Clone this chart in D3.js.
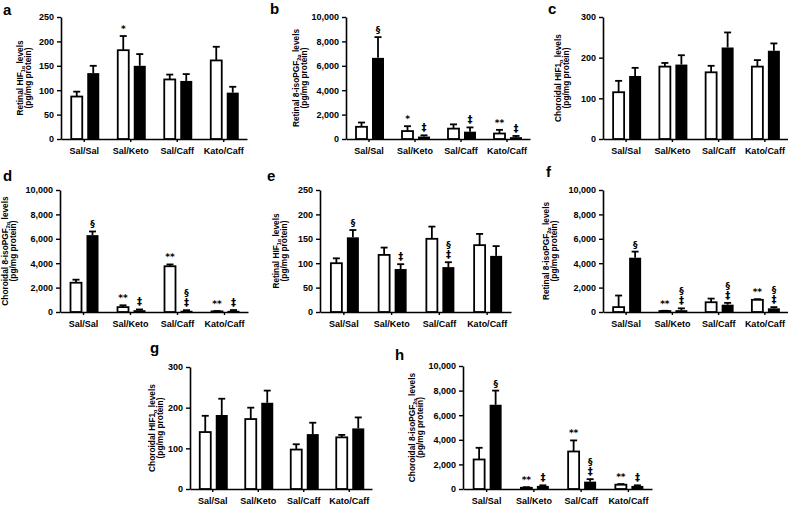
<!DOCTYPE html>
<html>
<head>
<meta charset="utf-8">
<script src="https://cdn.jsdelivr.net/npm/d3@7"></script>
<style>
  html, body { margin: 0; padding: 0; background: #fff; }
  svg { display: block; font-family: "Liberation Sans", Arial, sans-serif; font-weight: bold; }
</style>
</head>
<body>
<svg id="chart" width="788" height="506"></svg>
<script>
// ---------- DATA ----------
const groups = ["Sal/Sal", "Sal/Keto", "Sal/Caff", "Kato/Caff"];

// panel a: Retinal HIF1a
const aWhite = [87, 182, 122, 161];
const aWhiteErr = [10, 29, 10, 28];
const aBlack = [135, 150, 119, 95];
const aBlackErr = [15, 24, 14, 12];
const aWhiteMark = ["", "*", "", ""];
const aBlackMark = ["", "", "", ""];
const aTicks = [0, 50, 100, 150, 200, 250];

// panel b: Retinal 8-isoPGF2a
const bWhite = [1000, 650, 850, 450];
const bWhiteErr = [350, 400, 350, 300];
const bBlack = [6650, 200, 600, 150];
const bBlackErr = [1700, 100, 350, 100];
const bWhiteMark = ["", "*", "", "**"];
const bBlackMark = ["§", "‡", "‡", "‡"];
const bTicks = [0, 2000, 4000, 6000, 8000, 10000];

// panel c: Choroidal HIF1a
const cWhite = [115, 178, 164, 178];
const cWhiteErr = [28, 9, 16, 16];
const cBlack = [155, 183, 225, 217];
const cBlackErr = [20, 23, 37, 18];
const cWhiteMark = ["", "", "", ""];
const cBlackMark = ["", "", "", ""];
const cTicks = [0, 100, 200, 300];

// panel d: Choroidal 8-isoPGF2a
const dWhite = [2400, 400, 3750, 50];
const dWhiteErr = [250, 150, 150, 30];
const dBlack = [6300, 150, 100, 100];
const dBlackErr = [300, 60, 50, 60];
const dWhiteMark = ["", "**", "**", "**"];
const dBlackMark = ["§", "‡", "§|‡", "‡"];
const dTicks = [0, 2000, 4000, 6000, 8000, 10000];

// panel e: Retinal HIF1a
const eWhite = [100, 117, 150, 137];
const eWhiteErr = [10, 15, 25, 23];
const eBlack = [153, 88, 92, 115];
const eBlackErr = [15, 10, 10, 20];
const eWhiteMark = ["", "", "", ""];
const eBlackMark = ["§", "‡", "§|‡", ""];
const eTicks = [0, 50, 100, 150, 200, 250];

// panel f: Retinal 8-isoPGF2a
const fWhite = [400, 80, 800, 1000];
const fWhiteErr = [950, 20, 300, 50];
const fBlack = [4450, 150, 600, 300];
const fBlackErr = [500, 150, 150, 100];
const fWhiteMark = ["", "**", "", "**"];
const fBlackMark = ["§", "§|‡", "§|‡", "§|‡"];
const fTicks = [0, 2000, 4000, 6000, 8000, 10000];

// panel g: Choroidal HIF1a
const gWhite = [140, 172, 97, 127];
const gWhiteErr = [40, 28, 13, 6];
const gBlack = [182, 212, 135, 149];
const gBlackErr = [40, 30, 28, 27];
const gWhiteMark = ["", "", "", ""];
const gBlackMark = ["", "", "", ""];
const gTicks = [0, 100, 200, 300];

// panel h: Choroidal 8-isoPGF2a
const hWhite = [2400, 100, 3050, 350];
const hWhiteErr = [950, 50, 900, 50];
const hBlack = [6850, 250, 600, 250];
const hBlackErr = [1150, 50, 200, 50];
const hWhiteMark = ["", "**", "**", "**"];
const hBlackMark = ["§", "‡", "§|‡", "‡"];
const hTicks = [0, 2000, 4000, 6000, 8000, 10000];

// axis titles: [prefix, subscript, suffix]
const titleHIFRet = ["Retinal HIF", "1α", " levels"];
const titleHIFCho = ["Choroidal HIF1", "α", " levels"];
const titleIsoRet = ["Retinal 8-isoPGF", "2α", " levels"];
const titleIsoCho = ["Choroidal 8-isoPGF", "2α", " levels"];
const titleUnit = "(pg/mg protein)";

// ---------- LAYOUT ----------
const panels = [
  { id: "a", white: aWhite, wErr: aWhiteErr, black: aBlack, bErr: aBlackErr, wMark: aWhiteMark, bMark: aBlackMark, ticks: aTicks, title: titleHIFRet,
    x0: 61, x1: 247, yTop: 17, yBot: 139, lx: 3, ly: 15, t1: 23, t2: 31 },
  { id: "b", white: bWhite, wErr: bWhiteErr, black: bBlack, bErr: bBlackErr, wMark: bWhiteMark, bMark: bBlackMark, ticks: bTicks, title: titleIsoRet,
    x0: 346, x1: 530, yTop: 17, yBot: 139, lx: 270, ly: 14, t1: 299, t2: 307 },
  { id: "c", white: cWhite, wErr: cWhiteErr, black: cBlack, bErr: cBlackErr, wMark: cWhiteMark, bMark: cBlackMark, ticks: cTicks, title: titleHIFCho,
    x0: 603, x1: 788, yTop: 17, yBot: 139, lx: 548, ly: 14, t1: 561, t2: 569 },
  { id: "d", white: dWhite, wErr: dWhiteErr, black: dBlack, bErr: dBlackErr, wMark: dWhiteMark, bMark: dBlackMark, ticks: dTicks, title: titleIsoCho,
    x0: 60, x1: 248, yTop: 190, yBot: 312, lx: 3, ly: 181, t1: 8, t2: 16 },
  { id: "e", white: eWhite, wErr: eWhiteErr, black: eBlack, bErr: eBlackErr, wMark: eWhiteMark, bMark: eBlackMark, ticks: eTicks, title: titleHIFRet,
    x0: 320, x1: 511, yTop: 190, yBot: 312, lx: 267, ly: 181, t1: 279, t2: 287 },
  { id: "f", white: fWhite, wErr: fWhiteErr, black: fBlack, bErr: fBlackErr, wMark: fWhiteMark, bMark: fBlackMark, ticks: fTicks, title: titleIsoRet,
    x0: 603, x1: 788, yTop: 190, yBot: 312, lx: 546, ly: 177, t1: 549, t2: 557 },
  { id: "g", white: gWhite, wErr: gWhiteErr, black: gBlack, bErr: gBlackErr, wMark: gWhiteMark, bMark: gBlackMark, ticks: gTicks, title: titleHIFCho,
    x0: 190, x1: 372, yTop: 367, yBot: 489, lx: 150, ly: 353, t1: 155, t2: 163 },
  { id: "h", white: hWhite, wErr: hWhiteErr, black: hBlack, bErr: hBlackErr, wMark: hWhiteMark, bMark: hBlackMark, ticks: hTicks, title: titleIsoCho,
    x0: 463, x1: 652, yTop: 366, yBot: 489, lx: 395, ly: 360, t1: 415, t2: 423 }
];

const svg = d3.select("#chart");
const fmt = d3.format(",");
const FONT = "Liberation Sans, Arial, sans-serif";

panels.forEach(p => {
  const g = svg.append("g");
  const x = d3.scaleBand().domain(groups).range([p.x0, p.x1]).paddingInner(0).paddingOuter(0);
  const y = d3.scaleLinear().domain([0, d3.max(p.ticks)]).range([p.yBot, p.yTop]);

  // panel letter
  g.append("text").attr("x", p.lx).attr("y", p.ly).attr("font-size", 15).attr("font-weight", "bold").text(p.id);

  // y axis
  const yAx = g.append("g").attr("transform", `translate(${p.x0},0)`)
    .call(d3.axisLeft(y).tickValues(p.ticks).tickFormat(fmt).tickSize(4).tickSizeOuter(0).tickPadding(3));
  yAx.select(".domain").attr("stroke-width", 1.6);
  yAx.selectAll(".tick line").attr("stroke-width", 1.4);
  yAx.selectAll(".tick text").attr("font-size", 9).attr("font-weight", "bold").attr("font-family", FONT);

  // x axis
  const xAx = g.append("g").attr("transform", `translate(0,${p.yBot})`)
    .call(d3.axisBottom(x).tickSize(3).tickSizeOuter(0).tickPadding(6));
  xAx.select(".domain").attr("stroke-width", 1.6);
  xAx.selectAll(".tick line").attr("stroke-width", 1.4);
  xAx.selectAll(".tick text").attr("font-size", 9).attr("font-weight", "bold").attr("font-family", FONT);

  // y title
  const cy = (p.yTop + p.yBot) / 2;
  const t1 = g.append("text").attr("transform", `translate(${p.t1},${cy}) rotate(-90)`)
    .attr("text-anchor", "middle").attr("font-size", 8.3);
  t1.append("tspan").text(p.title[0]);
  t1.append("tspan").attr("font-size", 5.5).attr("dy", 2).text(p.title[1]);
  t1.append("tspan").attr("dy", -2).text(p.title[2]);
  g.append("text").attr("transform", `translate(${p.t2},${cy}) rotate(-90)`)
    .attr("text-anchor", "middle").attr("font-size", 8.3).text(titleUnit);

  const bw = 11;
  const rows = groups.map((k, i) => ({ k, i }));
  const series = [
    { vals: p.white, errs: p.wErr, marks: p.wMark, off: -13, fill: "#fff", stroke: 1.8 },
    { vals: p.black, errs: p.bErr, marks: p.bMark, off: 3, fill: "#000", stroke: 0 }
  ];
  series.forEach(s => {
    rows.forEach(r => {
      const c = x(r.k) + x.bandwidth() / 2;
      const bx = c + s.off;
      const v = s.vals[r.i], e = s.errs[r.i];
      const top = y(v + e);
      const mid = bx + bw / 2 + (s.stroke ? 0 : 0.5);
      // error bar
      g.append("line").attr("x1", mid).attr("x2", mid).attr("y1", y(v)).attr("y2", top)
        .attr("stroke", "#000").attr("stroke-width", 1.8);
      g.append("line").attr("x1", mid - 3.5).attr("x2", mid + 3.5).attr("y1", top).attr("y2", top)
        .attr("stroke", "#000").attr("stroke-width", 1.8);
      // bar
      if (s.stroke) {
        g.append("rect").attr("x", bx).attr("y", y(v)).attr("width", bw).attr("height", Math.max(0, y(0) - y(v)))
          .attr("fill", s.fill).attr("stroke", "#000").attr("stroke-width", s.stroke);
      } else {
        g.append("rect").attr("x", bx).attr("y", y(v)).attr("width", bw + 1).attr("height", Math.max(0, y(0) - y(v)))
          .attr("fill", s.fill);
      }
      // significance marks
      const m = s.marks[r.i];
      if (m) {
        const parts = m.split("|").reverse();
        parts.forEach((txt, j) => {
          g.append("text").attr("x", mid).attr("y", top - 4 - j * 10)
            .attr("text-anchor", "middle").attr("font-size", txt === "‡" ? 10 : 9)
            .attr("font-family", "DejaVu Sans, sans-serif").attr("font-weight", "bold")
            .attr("fill", "#000").text(txt);
        });
      }
    });
  });
});
</script>
</body>
</html>
